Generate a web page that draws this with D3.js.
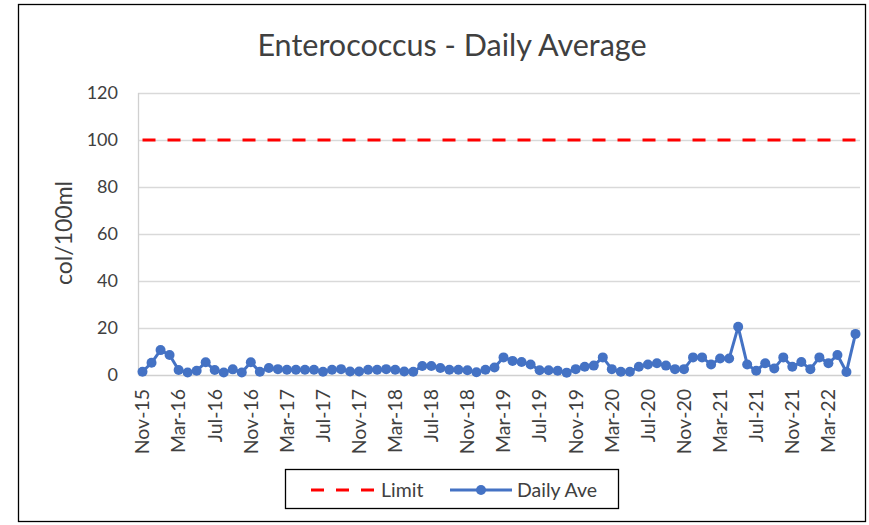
<!DOCTYPE html>
<html>
<head>
<meta charset="utf-8">
<script src="https://cdn.jsdelivr.net/npm/d3@7"></script>
<style>
  html, body { margin: 0; padding: 0; background: #fff; }
  svg { display: block; }
  text { font-family: Lato, "Open Sans", sans-serif; fill: #404040; }
</style>
</head>
<body>
<svg id="chart" width="869" height="525"></svg>
<script>
// ---- data ----
const categories = [
  "Nov-15","Dec-15","Jan-16","Feb-16","Mar-16","Apr-16","May-16","Jun-16","Jul-16","Aug-16","Sep-16","Oct-16",
  "Nov-16","Dec-16","Jan-17","Feb-17","Mar-17","Apr-17","May-17","Jun-17","Jul-17","Aug-17","Sep-17","Oct-17",
  "Nov-17","Dec-17","Jan-18","Feb-18","Mar-18","Apr-18","May-18","Jun-18","Jul-18","Aug-18","Sep-18","Oct-18",
  "Nov-18","Dec-18","Jan-19","Feb-19","Mar-19","Apr-19","May-19","Jun-19","Jul-19","Aug-19","Sep-19","Oct-19",
  "Nov-19","Dec-19","Jan-20","Feb-20","Mar-20","Apr-20","May-20","Jun-20","Jul-20","Aug-20","Sep-20","Oct-20",
  "Nov-20","Dec-20","Jan-21","Feb-21","Mar-21","Apr-21","May-21","Jun-21","Jul-21","Aug-21","Sep-21","Oct-21",
  "Nov-21","Dec-21","Jan-22","Feb-22","Mar-22","Apr-22","May-22","Jun-22"
];
const dailyAve = [
  1.4, 5.2, 10.6, 8.5, 2.1, 1.1, 1.8, 5.4, 2.1, 1.1, 2.4, 1.1,
  5.4, 1.4, 3.0, 2.5, 2.2, 2.2, 2.2, 2.2, 1.4, 2.2, 2.5, 1.5,
  1.5, 2.2, 2.2, 2.5, 2.2, 1.5, 1.4, 3.8, 3.8, 3.0, 2.2, 2.2,
  2.0, 1.2, 2.2, 3.2, 7.5, 6.0, 5.5, 4.5, 2.0, 2.0, 1.8, 1.0,
  2.5, 3.5, 4.0, 7.5, 2.5, 1.4, 1.4, 3.5, 4.5, 5.0, 4.0, 2.5,
  2.5, 7.5, 7.5, 4.5, 7.0, 7.0, 20.5, 4.5, 1.8, 5.0, 2.8, 7.5,
  3.5, 5.5, 2.5, 7.5, 5.0, 8.5, 1.3, 17.5
];
const limitValue = 100;
const yTicks = [0, 20, 40, 60, 80, 100, 120];
const tickEvery = 4;
const titleText = "Enterococcus - Daily Average";
const yAxisTitle = "col/100ml";
const seriesNames = ["Limit", "Daily Ave"];

// ---- layout ----
const svg = d3.select("#chart");
const plot = { left: 138, right: 860, top: 93, bottom: 375 };
const blue = "#4472C4";
const red = "#FF0000";

// outer frame
svg.append("rect")
  .attr("x", 18.5).attr("y", 4.5).attr("width", 847).attr("height", 517)
  .attr("fill", "#fff").attr("stroke", "#000").attr("stroke-width", 1.3);

const x = d3.scaleBand().domain(categories).range([plot.left, plot.right]).padding(0);
const xc = d => x(d) + x.bandwidth() / 2;
const y = d3.scaleLinear().domain([0, 120]).range([plot.bottom, plot.top]);

// gridlines
svg.append("g").selectAll("line").data(yTicks.filter(t => t > 0)).join("line")
  .attr("x1", plot.left).attr("x2", plot.right)
  .attr("y1", d => y(d) + 0.5).attr("y2", d => y(d) + 0.5)
  .attr("stroke", "#d9d9d9").attr("stroke-width", 1.3);

// left axis line
svg.append("line").attr("x1", plot.left + 0.5).attr("x2", plot.left + 0.5)
  .attr("y1", plot.top).attr("y2", plot.bottom)
  .attr("stroke", "#d0d0d0").attr("stroke-width", 1.3);

// y axis
const yAxis = d3.axisLeft(y).tickValues(yTicks).tickSize(0).tickPadding(20);
const gy = svg.append("g").attr("transform", `translate(${plot.left},0)`).call(yAxis);
gy.select(".domain").remove();
gy.selectAll("text").style("font-size", "18px").attr("fill", "#404040");

// x axis
const xAxis = d3.axisBottom(x)
  .tickValues(categories.filter((c, i) => i % tickEvery === 0))
  .tickSize(0).tickPadding(0);
const gx = svg.append("g").attr("transform", `translate(0,${plot.bottom})`).call(xAxis);
gx.select(".domain").attr("stroke", "#d0d0d0").attr("stroke-width", 1.3);
gx.selectAll("text")
  .style("font-size", "19.5px").attr("fill", "#404040")
  .attr("text-anchor", "end")
  .attr("transform", "rotate(-90)")
  .attr("x", -14).attr("y", 0).attr("dy", "0.35em");

// limit line
svg.append("line")
  .attr("x1", xc(categories[0])).attr("x2", xc(categories[categories.length - 1]))
  .attr("y1", y(limitValue)).attr("y2", y(limitValue))
  .attr("stroke", red).attr("stroke-width", 3).attr("stroke-dasharray", "13,12");

// series line
const line = d3.line().x((d, i) => xc(categories[i])).y(d => y(d));
svg.append("path").datum(dailyAve)
  .attr("d", line).attr("fill", "none").attr("stroke", blue)
  .attr("stroke-width", 3).attr("stroke-linejoin", "round");
svg.append("g").selectAll("circle").data(dailyAve).join("circle")
  .attr("cx", (d, i) => xc(categories[i])).attr("cy", d => y(d))
  .attr("r", 5).attr("fill", blue);

// title
svg.append("text").attr("x", 452).attr("y", 56).attr("text-anchor", "middle")
  .style("font-size", "30.5px").attr("fill", "#000").text(titleText);

// y axis title
svg.append("text").attr("transform", "translate(72,233) rotate(-90)")
  .attr("text-anchor", "middle").style("font-size", "23px").attr("fill", "#000")
  .text(yAxisTitle);

// legend
const lg = svg.append("g");
lg.append("rect").attr("x", 285.5).attr("y", 469.5).attr("width", 333).attr("height", 39)
  .attr("fill", "#fff").attr("stroke", "#000").attr("stroke-width", 1.3);
lg.append("line").attr("x1", 311).attr("x2", 376).attr("y1", 490).attr("y2", 490)
  .attr("stroke", red).attr("stroke-width", 3).attr("stroke-dasharray", "13,12");
lg.append("text").attr("x", 381).attr("y", 490).attr("dy", "0.35em")
  .style("font-size", "19.5px").attr("fill", "#000").text(seriesNames[0]);
lg.append("line").attr("x1", 450).attr("x2", 512).attr("y1", 490).attr("y2", 490)
  .attr("stroke", blue).attr("stroke-width", 3);
lg.append("circle").attr("cx", 481).attr("cy", 490).attr("r", 5).attr("fill", blue);
lg.append("text").attr("x", 517).attr("y", 490).attr("dy", "0.35em")
  .style("font-size", "19.5px").attr("fill", "#000").text(seriesNames[1]);
</script>
</body>
</html>
